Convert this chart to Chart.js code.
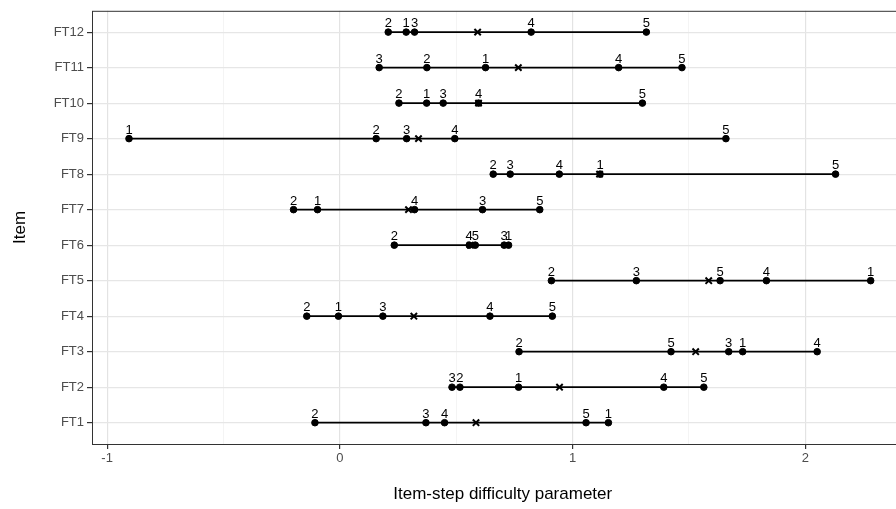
<!DOCTYPE html>
<html>
<head>
<meta charset="utf-8">
<script src="https://cdn.jsdelivr.net/npm/chart.js@4.4.1/dist/chart.umd.min.js"></script>
<style>
  html, body { margin: 0; padding: 0; background: #fff; overflow: hidden; }
  #chart { display: block; }
</style>
</head>
<body>
<canvas id="chart" width="920" height="509"></canvas>
<script>
// Items, bottom to top
const items = ['FT1', 'FT2', 'FT3', 'FT4', 'FT5', 'FT6', 'FT7', 'FT8', 'FT9', 'FT10', 'FT11', 'FT12'];

// Step difficulty per item (same order as items)
const step1 = [1.154, 0.768, 1.731, -0.006, 2.281, 0.725, -0.096, 1.118, -0.906, 0.373, 0.626, 0.285];
const step2 = [-0.107, 0.516, 0.770, -0.142, 0.909, 0.234, -0.199, 0.659, 0.156, 0.254, 0.374, 0.208];
const step3 = [0.370, 0.482, 1.671, 0.185, 1.274, 0.706, 0.613, 0.732, 0.287, 0.444, 0.169, 0.321];
const step4 = [0.450, 1.392, 2.051, 0.645, 1.833, 0.556, 0.321, 0.943, 0.494, 0.596, 1.198, 0.822];
const step5 = [1.058, 1.564, 1.423, 0.913, 1.634, 0.582, 0.859, 2.130, 1.659, 1.300, 1.470, 1.317];
const steps = [step1, step2, step3, step4, step5];

// Item mean (x marks)
const means = [0.585, 0.944, 1.529, 0.318, 1.585, 0.561, 0.295, 1.116, 0.338, 0.596, 0.767, 0.592];

const xTicks = [-1, -0.5, 0, 0.5, 1, 1.5, 2];

const FONT = '"Liberation Sans", Arial, Helvetica, sans-serif';

// one line per item through its step points
const itemSets = items.map((name, i) => {
  const pts = steps.map((s, k) => ({ x: s[i], y: i + 1, step: String(k + 1) }));
  pts.sort((a, b) => a.x - b.x);
  return {
    label: name,
    data: pts,
    showLine: true,
    borderColor: '#000',
    backgroundColor: '#000',
    borderWidth: 1.8,
    pointRadius: 3.3,
    pointBorderWidth: 1,
    pointHoverRadius: 3.3,
  };
});

const meanSet = {
  label: 'mean',
  data: means.map((m, i) => ({ x: m, y: i + 1 })),
  showLine: false,
  pointStyle: 'crossRot',
  pointRadius: 4.5,
  pointBorderWidth: 2,
  borderColor: '#000',
  backgroundColor: '#000',
};

// step numbers over each point
const stepLabels = {
  id: 'stepLabels',
  afterDatasetsDraw(chart) {
    const ctx = chart.ctx;
    ctx.save();
    ctx.font = '13px ' + FONT;
    ctx.fillStyle = '#000';
    ctx.textAlign = 'center';
    ctx.textBaseline = 'alphabetic';
    itemSets.forEach((ds, d) => {
      const meta = chart.getDatasetMeta(d);
      meta.data.forEach((el, j) => {
        ctx.fillText(ds.data[j].step, el.x, el.y - 5);
      });
    });
    ctx.restore();
  }
};

// panel border like theme_bw
const panelBorder = {
  id: 'panelBorder',
  afterDraw(chart) {
    const a = chart.chartArea;
    const ctx = chart.ctx;
    ctx.save();
    ctx.strokeStyle = '#333';
    ctx.lineWidth = 1;
    ctx.strokeRect(a.left + 0.5, a.top + 0.5, a.right - a.left, a.bottom - a.top);
    ctx.restore();
  }
};

new Chart(document.getElementById('chart'), {
  type: 'scatter',
  data: { datasets: itemSets.concat([meanSet]) },
  options: {
    responsive: false,
    animation: false,
    devicePixelRatio: 1,
    layout: { padding: { top: 9, right: 0, bottom: 0, left: 0 } },
    plugins: {
      legend: { display: false },
      tooltip: { enabled: false },
    },
    scales: {
      x: {
        type: 'linear',
        min: -1.065,
        max: 2.465,
        afterBuildTicks: (scale) => { scale.ticks = xTicks.map(v => ({ value: v })); },
        afterFit: (scale) => { scale.height = 65; },
        grid: {
          color: (c) => Number.isInteger(c.tick.value) ? '#e3e3e3' : '#f1f1f1',
          lineWidth: (c) => Number.isInteger(c.tick.value) ? 1.2 : 0.8,
          tickColor: (c) => Number.isInteger(c.tick.value) ? '#333' : 'rgba(0,0,0,0)',
          tickLength: 5,
        },
        border: { display: false },
        ticks: {
          autoSkip: false,
          maxRotation: 0,
          padding: 2,
          color: '#4d4d4d',
          font: { family: FONT, size: 13 },
          callback: (v) => Number.isInteger(v) ? String(v) : '',
        },
        title: {
          display: true,
          text: 'Item-step difficulty parameter',
          color: '#000',
          font: { family: FONT, size: 17 },
          padding: { top: 0, bottom: 4 },
        },
      },
      y: {
        type: 'linear',
        min: 0.4,
        max: 12.6,
        afterBuildTicks: (scale) => { scale.ticks = items.map((_, i) => ({ value: i + 1 })); },
        afterFit: (scale) => { scale.width = 92; },
        grid: {
          color: '#e6e6e6',
          lineWidth: 1.2,
          tickColor: '#333',
          tickLength: 5,
        },
        border: { display: false },
        ticks: {
          autoSkip: false,
          padding: 3,
          color: '#4d4d4d',
          font: { family: FONT, size: 13 },
          callback: (v) => items[v - 1],
        },
        title: {
          display: true,
          text: 'Item',
          color: '#000',
          font: { family: FONT, size: 17 },
          padding: { top: 10, bottom: 0 },
        },
      },
    },
  },
  plugins: [stepLabels, panelBorder],
});
</script>
</body>
</html>
